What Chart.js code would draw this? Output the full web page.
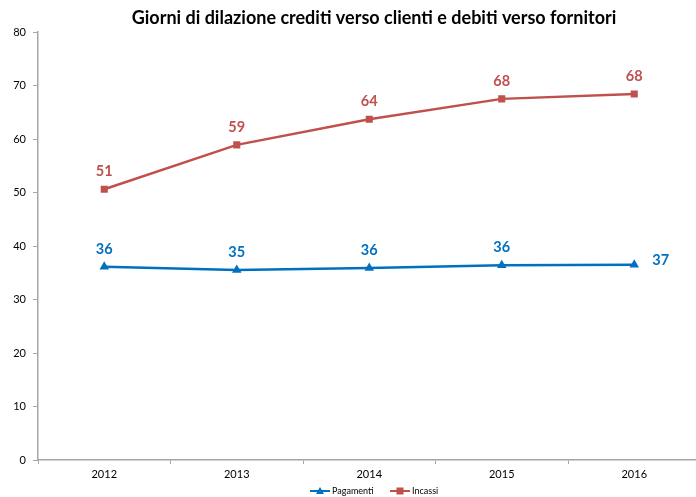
<!DOCTYPE html>
<html>
<head>
<meta charset="utf-8">
<script src="https://cdn.jsdelivr.net/npm/chart.js@4.4.1/dist/chart.umd.min.js"></script>
<style>
  html, body { margin: 0; padding: 0; background: #fff; overflow: hidden; }
  #wrap { width: 706px; height: 497px; position: relative; }
</style>
</head>
<body>
<div id="wrap"><canvas id="chart"></canvas></div>
<script>
// ── Data ──────────────────────────────────────────────────────────────────
const years      = ['2012', '2013', '2014', '2015', '2016'];
const pagamenti  = [36.1, 35.5, 35.9, 36.4, 36.5];
const incassi    = [50.6, 58.9, 63.7, 67.5, 68.4];
const pagLabels  = ['36', '35', '36', '36', '37'];
const incLabels  = ['51', '59', '64', '68', '68'];
const yTicks     = [0, 10, 20, 30, 40, 50, 60, 70, 80];

const FONT  = 'Lato, "Open Sans", sans-serif';
const BLUE  = '#0070C0';
const RED   = '#C0504D';
const AXIS  = '#A6A6A6';

// where each value label sits relative to its point
const pagLabelPos = ['top', 'top', 'top', 'top', 'right'];
const incLabelPos = ['top', 'top', 'top', 'top', 'top'];

// ── Plugins ───────────────────────────────────────────────────────────────
const titlePlugin = {
    id: 'titleText',
    afterDraw(chart) {
        const ctx = chart.ctx;
        ctx.save();
        ctx.font = 'bold 18px ' + FONT;
        ctx.fillStyle = '#000';
        ctx.textAlign = 'center';
        ctx.textBaseline = 'middle';
        ctx.fillText('Giorni di dilazione crediti verso clienti e debiti verso fornitori', 374, 18);
        ctx.restore();
    }
};

const valueLabels = {
    id: 'valueLabels',
    afterDatasetsDraw(chart) {
        const ctx = chart.ctx;
        ctx.save();
        ctx.font = 'bold 14.5px ' + FONT;
        ctx.textBaseline = 'middle';
        chart.data.datasets.forEach((ds, di) => {
            const meta = chart.getDatasetMeta(di);
            meta.data.forEach((pt, i) => {
                const pos = ds.labelPos[i];
                ctx.fillStyle = ds.borderColor;
                if (pos === 'right') {
                    ctx.textAlign = 'left';
                    ctx.fillText(ds.valueText[i], pt.x + 18, pt.y - 4);
                } else {
                    ctx.textAlign = 'center';
                    ctx.fillText(ds.valueText[i], pt.x, pt.y - 18);
                }
            });
        });
        ctx.restore();
    }
};

const bottomLegend = {
    id: 'bottomLegend',
    afterDraw(chart) {
        const ctx = chart.ctx;
        const y = 491;
        const items = [
            { x: 310, ds: chart.data.datasets[0] },
            { x: 390, ds: chart.data.datasets[1] },
        ];
        ctx.save();
        ctx.font = '9px ' + FONT;
        ctx.textBaseline = 'middle';
        ctx.textAlign = 'left';
        items.forEach(it => {
            const c = it.ds.borderColor;
            ctx.strokeStyle = c;
            ctx.lineWidth = 2;
            ctx.beginPath();
            ctx.moveTo(it.x, y);
            ctx.lineTo(it.x + 20, y);
            ctx.stroke();
            ctx.fillStyle = c;
            const mx = it.x + 10;
            if (it.ds.pointStyle === 'triangle') {
                ctx.beginPath();
                ctx.moveTo(mx, y - 4);
                ctx.lineTo(mx + 4, y + 3);
                ctx.lineTo(mx - 4, y + 3);
                ctx.closePath();
                ctx.fill();
            } else {
                ctx.fillRect(mx - 3.5, y - 3.5, 7, 7);
            }
            ctx.fillStyle = '#000';
            ctx.fillText(it.ds.label, it.x + 22, y + 0.5);
        });
        ctx.restore();
    }
};

// ── Chart ─────────────────────────────────────────────────────────────────
new Chart(document.getElementById('chart'), {
    type: 'line',
    data: {
        labels: years,
        datasets: [
            {
                label: 'Pagamenti',
                data: pagamenti,
                valueText: pagLabels,
                labelPos: pagLabelPos,
                borderColor: BLUE,
                backgroundColor: BLUE,
                borderWidth: 2.5,
                pointStyle: 'triangle',
                pointRadius: 5.5,
                pointBorderWidth: 0,
                tension: 0,
            },
            {
                label: 'Incassi',
                data: incassi,
                valueText: incLabels,
                labelPos: incLabelPos,
                borderColor: RED,
                backgroundColor: RED,
                borderWidth: 2.5,
                pointStyle: 'rect',
                pointRadius: 5,
                pointBorderWidth: 0,
                tension: 0,
            },
        ],
    },
    options: {
        responsive: true,
        maintainAspectRatio: false,
        animation: false,
        layout: { padding: { top: 32, right: 0, bottom: 0, left: 0 } },
        plugins: {
            legend: { display: false },
            tooltip: { enabled: false },
            title: { display: false },
        },
        scales: {
            x: {
                offset: true,
                grid: {
                    offset: true,
                    drawOnChartArea: false,
                    drawTicks: true,
                    tickLength: 4,
                    color: AXIS,
                },
                border: { color: AXIS, width: 1.5 },
                ticks: { color: '#000', font: { family: FONT, size: 11 }, padding: 4 },
                afterFit(scale) { scale.height = 37; },
            },
            y: {
                min: 0,
                max: 80,
                afterBuildTicks(scale) { scale.ticks = yTicks.map(v => ({ value: v })); },
                grid: {
                    drawOnChartArea: false,
                    drawTicks: true,
                    tickLength: 5,
                    color: AXIS,
                },
                border: { color: AXIS, width: 1.5 },
                ticks: { color: '#000', font: { family: FONT, size: 11 }, padding: 7 },
                afterFit(scale) { scale.width = 38; },
            },
        },
    },
    plugins: [titlePlugin, valueLabels, bottomLegend],
});
</script>
</body>
</html>
